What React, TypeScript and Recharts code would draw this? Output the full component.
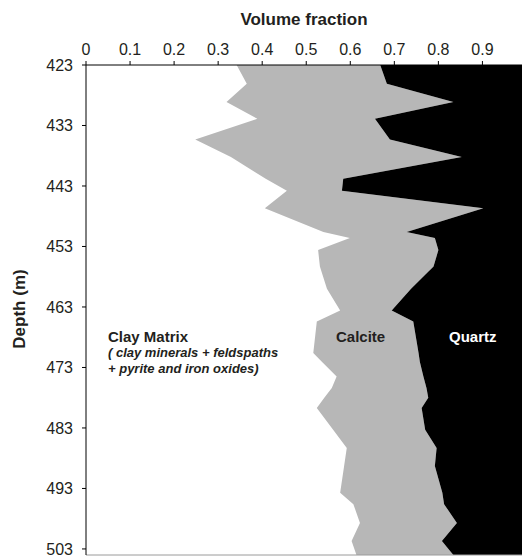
import React from "react";
import { AreaChart, Area, XAxis, YAxis, ReferenceArea, ReferenceLine } from "recharts";

// depth (m) of each sampled level, top to bottom
const depths = [
  423, 426.1, 429.1, 431.9, 435.3, 438.2, 441.8, 443.8, 446.7, 450.6, 451.6, 453.6, 456.3, 460.0, 463.6,
  465.4, 470.6, 472.1, 474.5, 476.4, 478.0, 479.7, 483.3, 486.3, 489.3, 493.7, 495.6, 498.7, 501.7, 504,
];

// volume fractions
const clay = [
  0.342, 0.365, 0.319, 0.389, 0.248, 0.329, 0.408, 0.456, 0.406, 0.539, 0.599, 0.527, 0.531, 0.547, 0.577,
  0.524, 0.516, 0.536, 0.569, 0.558, 0.541, 0.524, 0.561, 0.592, 0.586, 0.577, 0.607, 0.622, 0.603, 0.614,
];
const calcite = [
  0.326, 0.318, 0.515, 0.267, 0.442, 0.524, 0.176, 0.125, 0.496, 0.189, 0.193, 0.273, 0.258, 0.191, 0.117,
  0.219, 0.239, 0.222, 0.197, 0.215, 0.236, 0.238, 0.209, 0.204, 0.206, 0.232, 0.206, 0.22, 0.205, 0.22,
];
const quartz = [
  0.332, 0.317, 0.166, 0.344, 0.31, 0.147, 0.416, 0.419, 0.098, 0.272, 0.208, 0.2, 0.211, 0.262, 0.306,
  0.257, 0.245, 0.242, 0.234, 0.227, 0.223, 0.238, 0.23, 0.204, 0.208, 0.191, 0.187, 0.158, 0.192, 0.166,
];

const fractionTicks = [0, 0.1, 0.2, 0.3, 0.4, 0.5, 0.6, 0.7, 0.8, 0.9];
const depthTicks = [423, 433, 443, 453, 463, 473, 483, 493, 503];

const data = depths.map((depth, i) => ({
  depth,
  clay: clay[i],
  calcite: calcite[i],
  quartz: quartz[i],
}));

const FONT = "'Liberation Sans', Arial, Helvetica, sans-serif";
const INK = "#231f20";
const GREY = "#b7b7b7";
const W = 522;
const H = 550;

export default function App() {
  return (
    <div style={{ position: "relative", width: W, height: H, fontFamily: FONT }}>
      <AreaChart
        width={W}
        height={H}
        data={data}
        layout="vertical"
        margin={{ top: 0, right: 0, bottom: 3, left: 0 }}
      >
        <XAxis
          type="number"
          orientation="top"
          domain={[0, 1.008]}
          ticks={fractionTicks}
          allowDataOverflow
          height={57}
          tickSize={4}
          tickMargin={6}
          stroke="#000"
          tick={{ fill: INK, fontSize: 16, fontFamily: FONT }}
        />
        <YAxis
          type="number"
          dataKey="depth"
          domain={[423, 504]}
          ticks={depthTicks}
          allowDataOverflow
          width={78}
          tickSize={4}
          tickMargin={9}
          stroke="#000"
          tick={{ fill: INK, fontSize: 16, fontFamily: FONT }}
        />
        <Area
          type="linear"
          dataKey="clay"
          stackId="v"
          fill="#ffffff"
          fillOpacity={1}
          stroke="none"
          isAnimationActive={false}
        />
        <Area
          type="linear"
          dataKey="calcite"
          stackId="v"
          fill={GREY}
          fillOpacity={1}
          stroke="none"
          isAnimationActive={false}
        />
        <Area
          type="linear"
          dataKey="quartz"
          stackId="v"
          fill="#000000"
          fillOpacity={1}
          stroke="none"
          isAnimationActive={false}
        />
        <ReferenceArea x1={1} x2={1.008} fill="#000000" fillOpacity={1} stroke="none" />
        <ReferenceLine y={504} stroke="#9a9a9a" strokeWidth={1} />
      </AreaChart>
      <svg
        width={W}
        height={H}
        style={{ position: "absolute", left: 0, top: 0, pointerEvents: "none" }}
      >
        <text x={296} y={17} textAnchor="middle" fontSize={17} fontWeight="bold" fill={INK} fontFamily={FONT}>
          Volume fraction
        </text>
        <text
          x={17}
          y={301}
          textAnchor="middle"
          fontSize={17}
          fontWeight="bold"
          fill={INK}
          fontFamily={FONT}
          transform="rotate(-90 17 301)"
        >
          Depth (m)
        </text>
        <text x={100} y={333.5} fontSize={15} fontWeight="bold" fill={INK} fontFamily={FONT}>
          Clay Matrix
        </text>
        <text x={100} y={348.5} fontSize={13} fontWeight="bold" fontStyle="italic" fill={INK} fontFamily={FONT}>
          ( clay minerals + feldspaths
        </text>
        <text x={100} y={364.5} fontSize={13} fontWeight="bold" fontStyle="italic" fill={INK} fontFamily={FONT}>
          + pyrite and iron oxides)
        </text>
        <text x={328} y={333.5} fontSize={15} fontWeight="bold" fill={INK} fontFamily={FONT}>
          Calcite
        </text>
        <text x={441} y={333.5} fontSize={15} fontWeight="bold" fill="#ffffff" fontFamily={FONT}>
          Quartz
        </text>
      </svg>
    </div>
  );
}
